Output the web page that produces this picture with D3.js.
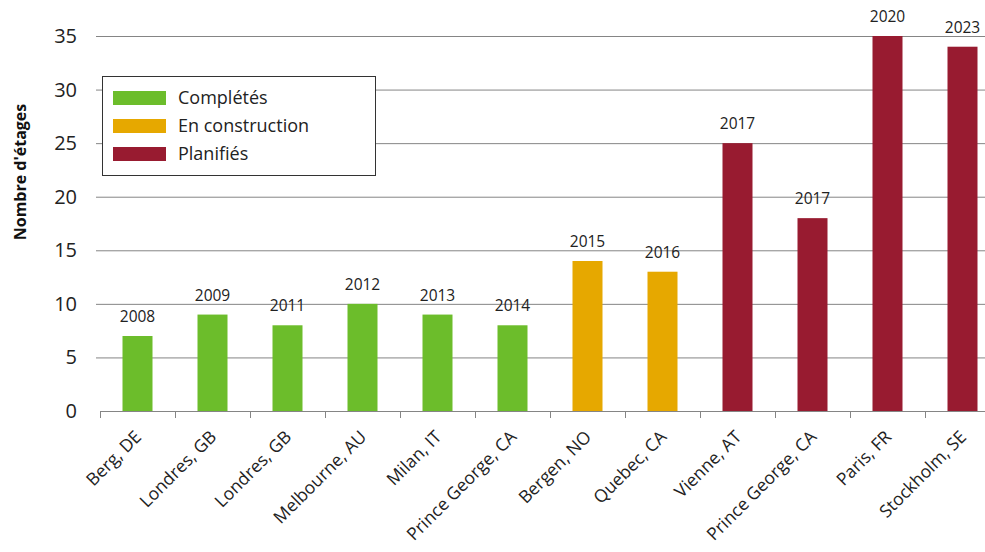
<!DOCTYPE html>
<html>
<head>
<meta charset="utf-8">
<script src="https://cdn.jsdelivr.net/npm/d3@7"></script>
<style>
  body { margin: 0; background: #fff; }
  svg { font-family: "Open Sans", "Liberation Sans", sans-serif; }
</style>
</head>
<body>
<svg id="chart" width="985" height="552"></svg>
<script>
// Chart data
var villes = ["Berg, DE", "Londres, GB", "Londres, GB", "Melbourne, AU", "Milan, IT", "Prince George, CA",
              "Bergen, NO", "Quebec, CA", "Vienne, AT", "Prince George, CA", "Paris, FR", "Stockholm, SE"];
var etages = [7, 9, 8, 10, 9, 8, 14, 13, 25, 18, 35, 34];
var annees = ["2008", "2009", "2011", "2012", "2013", "2014", "2015", "2016", "2017", "2017", "2020", "2023"];
var statuts = ["Complétés", "Complétés", "Complétés", "Complétés", "Complétés", "Complétés",
               "En construction", "En construction", "Planifiés", "Planifiés", "Planifiés", "Planifiés"];
var categories = ["Complétés", "En construction", "Planifiés"];
var couleurs = ["#6cbd2b", "#e6a800", "#981b30"];
var yTicks = [0, 5, 10, 15, 20, 25, 30, 35];

var svg = d3.select("#chart");
var idx = d3.range(villes.length);

// Scales
var x = d3.scaleBand().domain(idx).range([100, 1000]).paddingInner(0.6).paddingOuter(0.3);
var y = d3.scaleLinear().domain([0, 35]).range([411, 36]);
var color = d3.scaleOrdinal().domain(categories).range(couleurs);

// Gridlines
svg.append("g")
    .selectAll("line")
    .data(yTicks.filter(d => d > 0))
    .join("line")
    .attr("x1", 96).attr("x2", 985)
    .attr("y1", d => y(d) + 0.5).attr("y2", d => y(d) + 0.5)
    .attr("stroke", "#858585").attr("stroke-width", 1);

// Y tick labels
svg.append("g")
    .selectAll("text")
    .data(yTicks)
    .join("text")
    .attr("x", 77).attr("y", d => y(d))
    .attr("dy", "0.35em")
    .attr("text-anchor", "end")
    .attr("font-size", 20)
    .attr("fill", "#222")
    .text(d => d);

// Y axis title
svg.append("text")
    .attr("transform", "translate(26,172) rotate(-90)")
    .attr("text-anchor", "middle")
    .attr("font-size", 16)
    .attr("font-weight", "bold")
    .attr("fill", "#111")
    .text("Nombre d'étages");

// Bars
svg.append("g")
    .selectAll("rect")
    .data(idx)
    .join("rect")
    .attr("x", i => x(i))
    .attr("width", x.bandwidth())
    .attr("y", i => y(etages[i]))
    .attr("height", i => y(0) - y(etages[i]))
    .attr("fill", i => color(statuts[i]));

// Year labels above bars
svg.append("g")
    .selectAll("text")
    .data(idx)
    .join("text")
    .attr("x", i => x(i) + x.bandwidth() / 2)
    .attr("y", i => y(etages[i]) - 14)
    .attr("text-anchor", "middle")
    .attr("font-size", 15.5)
    .attr("fill", "#222")
    .text(i => annees[i]);

// X axis line and ticks
var step = x.step();
var xAxis = svg.append("g");
xAxis.append("line")
    .attr("x1", 100).attr("x2", 985)
    .attr("y1", 411.5).attr("y2", 411.5)
    .attr("stroke", "#858585");
xAxis.selectAll("line.tick")
    .data(idx)
    .join("line")
    .attr("class", "tick")
    .attr("x1", i => x(i) - (x.paddingOuter() * step) + 0.5)
    .attr("x2", i => x(i) - (x.paddingOuter() * step) + 0.5)
    .attr("y1", 411).attr("y2", 418)
    .attr("stroke", "#858585");

// X labels rotated
svg.append("g")
    .selectAll("text")
    .data(idx)
    .join("text")
    .attr("transform", i => "translate(" + (x(i) + x.bandwidth() / 2 + 5) + ",438) rotate(-45)")
    .attr("text-anchor", "end")
    .attr("font-size", 17.5)
    .attr("fill", "#222")
    .text(i => villes[i]);

// Legend
var legend = svg.append("g");
legend.append("rect")
    .attr("x", 102.5).attr("y", 76.5)
    .attr("width", 273).attr("height", 99)
    .attr("fill", "#fff").attr("stroke", "#333");
var lg = legend.selectAll("g")
    .data(categories)
    .join("g")
    .attr("transform", (d, i) => "translate(113," + (98 + i * 28) + ")");
lg.append("rect")
    .attr("x", 0).attr("y", -7)
    .attr("width", 53).attr("height", 14)
    .attr("fill", d => color(d));
lg.append("text")
    .attr("x", 65).attr("y", 0)
    .attr("dy", "0.35em")
    .attr("font-size", 18)
    .attr("fill", "#222")
    .text(d => d);
</script>
</body>
</html>
